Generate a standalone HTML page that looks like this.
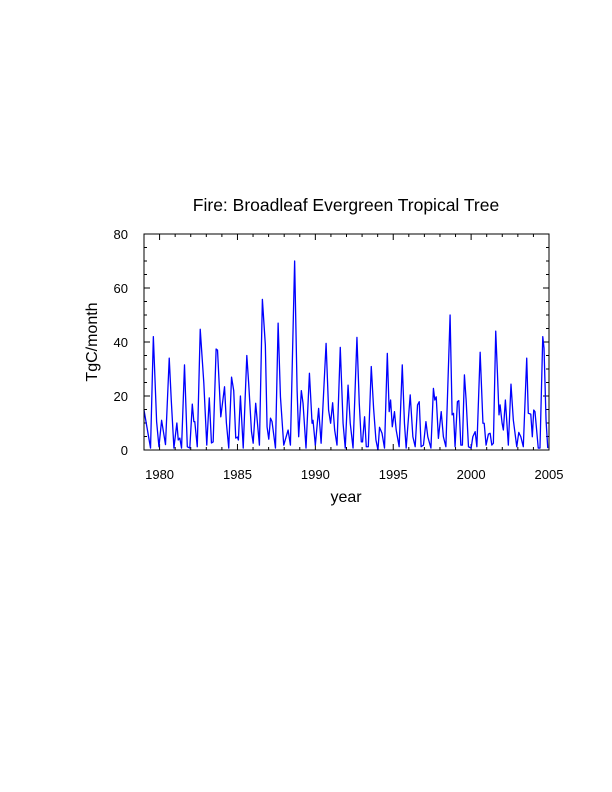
<!DOCTYPE html>
<html><head><meta charset="utf-8"><style>body{margin:0;background:#fff}svg{display:block}text{font-family:"Liberation Sans",sans-serif;fill:#000}</style></head>
<body>
<svg width="612" height="792" viewBox="0 0 612 792" xmlns="http://www.w3.org/2000/svg">
<text x="346" y="211" font-size="17.5" text-anchor="middle">Fire: Broadleaf Evergreen Tropical Tree</text>
<text transform="translate(97,342) rotate(-90)" font-size="16" text-anchor="middle">TgC/month</text>
<text x="346" y="502" font-size="16" text-anchor="middle">year</text>
<g id="ticks"></g>
<path id="line" fill="none" stroke="#0000ff" stroke-width="1.3" stroke-linejoin="round"/>
<rect x="144" y="234" width="405" height="216" fill="none" stroke="#000" stroke-width="1"/>
</svg>
<script>
const years=[1979.00,1979.42,1979.60,1979.81,1979.96,1980.13,1980.38,1980.62,1980.75,1980.92,1981.11,1981.20,1981.30,1981.41,1981.60,1981.78,1981.94,1982.10,1982.20,1982.26,1982.42,1982.61,1982.84,1983.03,1983.19,1983.33,1983.44,1983.63,1983.72,1983.93,1984.17,1984.29,1984.44,1984.62,1984.76,1984.89,1985.00,1985.06,1985.19,1985.37,1985.60,1985.72,1985.90,1986.01,1986.17,1986.41,1986.60,1986.79,1986.90,1987.01,1987.12,1987.22,1987.44,1987.61,1987.76,1987.97,1988.25,1988.40,1988.67,1988.83,1988.93,1989.10,1989.21,1989.40,1989.62,1989.79,1989.85,1990.00,1990.21,1990.37,1990.69,1990.85,1990.98,1991.11,1991.24,1991.39,1991.60,1991.78,1991.92,1992.10,1992.24,1992.42,1992.67,1992.82,1992.95,1993.03,1993.16,1993.27,1993.40,1993.59,1993.74,1993.89,1994.02,1994.12,1994.28,1994.44,1994.62,1994.74,1994.83,1994.94,1995.08,1995.19,1995.38,1995.58,1995.72,1995.83,1996.09,1996.26,1996.41,1996.56,1996.67,1996.79,1996.94,1997.10,1997.22,1997.42,1997.58,1997.67,1997.76,1997.90,1998.08,1998.22,1998.38,1998.65,1998.78,1998.87,1998.97,1999.12,1999.21,1999.34,1999.44,1999.57,1999.68,1999.83,2000.00,2000.11,2000.26,2000.37,2000.58,2000.76,2000.84,2000.96,2001.11,2001.22,2001.33,2001.43,2001.58,2001.69,2001.79,2001.86,2001.99,2002.07,2002.20,2002.39,2002.56,2002.71,2002.93,2003.06,2003.19,2003.35,2003.57,2003.67,2003.83,2003.93,2004.02,2004.10,2004.31,2004.42,2004.60,2004.68,2004.81,2004.92];
const values=[14.8,0.7,42,10.5,1.2,11,2,34,18.5,0.7,10,3.7,4.4,0.7,31.5,1.2,0.7,17,10.5,10.5,1.2,44.7,24.8,1.8,19.3,2.6,3,37.4,37,12.3,23.4,10,0.7,27,22,4.4,4.8,3.7,20,0.7,35,24.7,6.8,2.5,17.3,1.8,55.8,38.9,8.6,4,11.8,10.5,0.7,47,19.7,1.8,7.4,1.8,70,22,4.9,22,17.3,0.7,28.4,9.9,11,1.8,15.4,2.5,39.5,14.8,9.9,17.5,7.4,1.8,38,9.9,0.7,24,9.9,0.7,41.7,17.3,3,3,12.3,1.2,1.2,30.9,15.4,3.7,0,8.4,6.2,0.7,35.8,14.2,18.5,8.6,14.2,7.4,1.2,31.5,9.9,0.7,20.4,4.9,1.2,16.7,17.9,1.2,1.8,10.5,4.9,0.7,22.8,18.5,19.7,4.3,14.2,4.9,1.2,50,13,13.6,1.2,17.9,18.3,1.8,1.8,27.8,18.5,1.2,0.7,4.9,6.8,1.2,36.2,9.9,9.9,1.8,5.9,6.2,1.8,2.5,44,28.4,13,16.7,9.9,7.4,18.5,1.8,24.4,11.1,1.2,6.5,4.9,1.2,34,13.6,13.3,4.9,14.8,14.2,0.7,0.7,42,37.7,11.1,0.7];
const xTickYears=[1980,1985,1990,1995,2000,2005];
const yTickValues=[0,20,40,60,80];
const X0=144,X1=549,Y0=450,Y1=234,XMIN=1979,XMAX=2005,YMIN=0,YMAX=80;
function xs(t){return X0+(t-XMIN)/(XMAX-XMIN)*(X1-X0);}
function ys(v){return Y0-(v-YMIN)/(YMAX-YMIN)*(Y0-Y1);}
const NS="http://www.w3.org/2000/svg";
const line=document.getElementById('line');
line.setAttribute('d',years.map((t,i)=>(i?'L':'M')+xs(t).toFixed(2)+','+ys(values[i]).toFixed(2)).join(''));
const g=document.getElementById('ticks');
function ln(x1,y1,x2,y2){const l=document.createElementNS(NS,'line');l.setAttribute('x1',x1);l.setAttribute('y1',y1);l.setAttribute('x2',x2);l.setAttribute('y2',y2);l.setAttribute('stroke','#000');l.setAttribute('stroke-width','1');


g.appendChild(l);}
function tx(x,y,s,a){const t=document.createElementNS(NS,'text');t.setAttribute('x',x);t.setAttribute('y',y);t.setAttribute('font-size','13');t.setAttribute('text-anchor',a);t.textContent=s;


g.appendChild(t);}
for(let yr=XMIN;yr<=XMAX;yr++){const x=xs(yr);const maj=xTickYears.includes(yr);const L=maj?6:3;ln(x,Y0,x,Y0-L);ln(x,Y1,x,Y1+L);}
xTickYears.forEach(yr=>tx(xs(yr),Y0+29,String(yr),'middle'));
for(let v=YMIN;v<=YMAX;v+=5){const y=ys(v);const maj=yTickValues.includes(v);const L=maj?6:3;ln(X0,y,X0+L,y);ln(X1,y,X1-L,y);}
yTickValues.forEach(v=>tx(X0-16,ys(v)+5,String(v),'end'));
</script>
</body></html>
